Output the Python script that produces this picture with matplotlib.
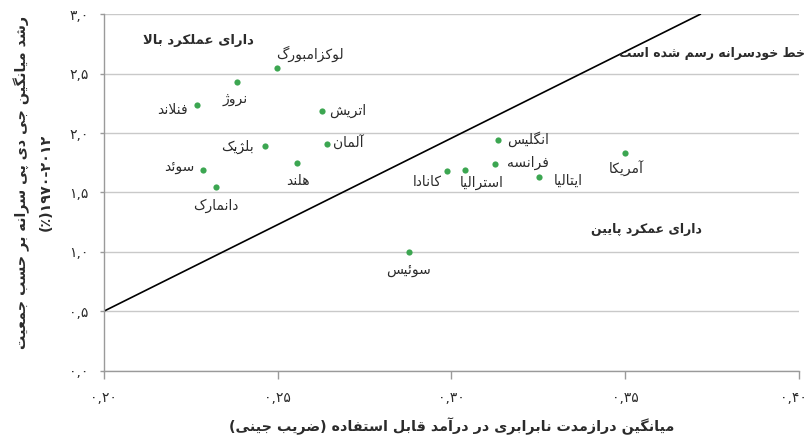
import re
import matplotlib
matplotlib.use("Agg")
import matplotlib.pyplot as plt
from matplotlib.ticker import FuncFormatter, MultipleLocator
from matplotlib.transforms import ScaledTranslation

# data
countries = ["لوکزامبورگ", "نروژ", "فنلاند", "اتریش", "بلژیک", "آلمان", "هلند", "سوئد",
             "دانمارک", "انگلیس", "فرانسه", "کانادا", "استرالیا", "ایتالیا", "آمریکا", "سوئیس"]
gini = [0.2497, 0.2384, 0.2268, 0.2627, 0.2465, 0.2642, 0.2556, 0.2285,
        0.2322, 0.3133, 0.3124, 0.2988, 0.3039, 0.3251, 0.3498, 0.2879]
growth = [2.55, 2.43, 2.24, 2.19, 1.89, 1.91, 1.75, 1.69,
          1.55, 1.94, 1.74, 1.68, 1.69, 1.63, 1.83, 1.00]
# label offsets in pixels (dx, dy, ha)
label_offsets = [(0, 14, "left"), (-2, -17, "center"), (-9, -5, "right"), (7, 0, "left"),
                 (-12, -1, "right"), (6, 1, "left"), (1, -18, "center"), (-8, 3, "right"),
                 (0, -19, "center"), (9, 1, "left"), (12, 1, "left"), (-6, -11, "right"),
                 (17, -13, "center"), (15, -4, "left"), (2, -16, "center"), (-1, -18, "center")]

line_x = [0.20, 0.3715]
line_y = [0.5, 3.0]

# --- minimal persian shaping + bidi, matplotlib has no complex text layout ---
FORMS = {
    "آ": (0xFE81, 0xFE82, None, None), "ا": (0xFE8D, 0xFE8E, None, None),
    "ئ": (0xFE89, 0xFE8A, 0xFE8B, 0xFE8C), "ب": (0xFE8F, 0xFE90, 0xFE91, 0xFE92),
    "پ": (0xFB56, 0xFB57, 0xFB58, 0xFB59), "ت": (0xFE95, 0xFE96, 0xFE97, 0xFE98),
    "ث": (0xFE99, 0xFE9A, 0xFE9B, 0xFE9C), "ج": (0xFE9D, 0xFE9E, 0xFE9F, 0xFEA0),
    "چ": (0xFB7A, 0xFB7B, 0xFB7C, 0xFB7D), "ح": (0xFEA1, 0xFEA2, 0xFEA3, 0xFEA4),
    "خ": (0xFEA5, 0xFEA6, 0xFEA7, 0xFEA8), "د": (0xFEA9, 0xFEAA, None, None),
    "ذ": (0xFEAB, 0xFEAC, None, None), "ر": (0xFEAD, 0xFEAE, None, None),
    "ز": (0xFEAF, 0xFEB0, None, None), "ژ": (0xFB8A, 0xFB8B, None, None),
    "س": (0xFEB1, 0xFEB2, 0xFEB3, 0xFEB4), "ش": (0xFEB5, 0xFEB6, 0xFEB7, 0xFEB8),
    "ص": (0xFEB9, 0xFEBA, 0xFEBB, 0xFEBC), "ض": (0xFEBD, 0xFEBE, 0xFEBF, 0xFEC0),
    "ط": (0xFEC1, 0xFEC2, 0xFEC3, 0xFEC4), "ظ": (0xFEC5, 0xFEC6, 0xFEC7, 0xFEC8),
    "ع": (0xFEC9, 0xFECA, 0xFECB, 0xFECC), "غ": (0xFECD, 0xFECE, 0xFECF, 0xFED0),
    "ف": (0xFED1, 0xFED2, 0xFED3, 0xFED4), "ق": (0xFED5, 0xFED6, 0xFED7, 0xFED8),
    "ک": (0xFB8E, 0xFB8F, 0xFB90, 0xFB91), "گ": (0xFB92, 0xFB93, 0xFB94, 0xFB95),
    "ل": (0xFEDD, 0xFEDE, 0xFEDF, 0xFEE0), "م": (0xFEE1, 0xFEE2, 0xFEE3, 0xFEE4),
    "ن": (0xFEE5, 0xFEE6, 0xFEE7, 0xFEE8), "و": (0xFEED, 0xFEEE, None, None),
    "ه": (0xFEE9, 0xFEEA, 0xFEEB, 0xFEEC), "ی": (0xFBFC, 0xFBFD, 0xFBFE, 0xFBFF),
}
LAM_ALEF = {"ا": (0xFEFB, 0xFEFC), "آ": (0xFEF5, 0xFEF6)}
MIRROR = {"(": ")", ")": "("}
DIGIT_RUN = r"[0-9۰-۹]+(?:[,.\-][0-9۰-۹]+)*"


def shape(s):
    out = []
    i = 0
    while i < len(s):
        c = s[i]
        if c not in FORMS:
            out.append(c)
            i += 1
            continue
        prev = s[i - 1] if i > 0 else ""
        joins_prev = prev in FORMS and FORMS[prev][2] is not None
        if c == "ل" and i + 1 < len(s) and s[i + 1] in LAM_ALEF:
            iso, fin = LAM_ALEF[s[i + 1]]
            out.append(chr(fin if joins_prev else iso))
            i += 2
            continue
        nxt = s[i + 1] if i + 1 < len(s) else ""
        joins_next = nxt in FORMS and FORMS[c][2] is not None
        iso, fin, ini, med = FORMS[c]
        if joins_prev and joins_next:
            out.append(chr(med))
        elif joins_prev:
            out.append(chr(fin))
        elif joins_next:
            out.append(chr(ini))
        else:
            out.append(chr(iso))
        i += 1
    return "".join(out)


def fa(s):
    """logical persian string -> visual string"""
    s = shape(s)
    parts = re.split("(" + DIGIT_RUN + ")", s)
    vis = []
    for p in reversed(parts):
        if p and re.fullmatch(DIGIT_RUN, p):
            vis.append(p)
        else:
            vis.append("".join(MIRROR.get(ch, ch) for ch in reversed(p)))
    return "".join(vis)


def fa_digits(txt):
    return txt.translate(str.maketrans("0123456789.", "۰۱۲۳۴۵۶۷۸۹,"))


plt.rcParams["font.family"] = ["DejaVu Sans"]
text_col = "#2b2b2b"
green = "#3ca651"

fig = plt.figure(figsize=(8.1, 4.41), dpi=100)
ax = fig.add_axes([0.128, 0.1594, 0.8588, 0.8082])

ax.set_xlim(0.20, 0.40)
ax.set_ylim(0.0, 3.0)
ax.xaxis.set_major_locator(MultipleLocator(0.05))
ax.yaxis.set_major_locator(MultipleLocator(0.5))
ax.xaxis.set_major_formatter(FuncFormatter(lambda v, p: fa_digits(f"{v:.2f}")))
ax.yaxis.set_major_formatter(FuncFormatter(lambda v, p: fa_digits(f"{v:.1f}")))
ax.grid(axis="y", color="#c9c9c9", linewidth=1.0)
ax.set_axisbelow(True)
for side in ["top", "right"]:
    ax.spines[side].set_visible(False)
for side in ["left", "bottom"]:
    ax.spines[side].set_color("#9a9a9a")
    ax.spines[side].set_linewidth(1.0)
ax.tick_params(axis="x", length=5.5, width=1, color="#9a9a9a", pad=9, labelsize=10, labelcolor=text_col)
ax.tick_params(axis="y", length=3, width=1, color="#9a9a9a", pad=8, labelsize=10, labelcolor=text_col)

ax.plot(line_x, line_y, color="black", linewidth=1.2, zorder=2)
ax.scatter(gini, growth, s=20, color=green, zorder=3, linewidths=0)

for name, x, y, (dx, dy, ha) in zip(countries, gini, growth, label_offsets):
    ax.annotate(fa(name), (x, y), xytext=(dx * 0.72, dy * 0.72), textcoords="offset points",
                ha=ha, va="center", fontsize=10, color=text_col)

ax.text(0.2271, 2.78, fa("دارای عملکرد بالا"), ha="center", va="center",
        fontsize=9.5, fontweight="bold", color=text_col)
ax.text(0.4016, 2.67, fa("خط خودسرانه رسم شده است"), ha="right", va="center",
        fontsize=9, fontweight="bold", color=text_col, clip_on=False)
ax.text(0.356, 1.19, fa("دارای عمکرد پایین"), ha="center", va="center",
        fontsize=9, fontweight="bold", color=text_col)

ax.set_xlabel(fa("میانگین درازمدت نابرابری در درآمد قابل استفاده (ضریب جینی)"),
              fontsize=10.3, fontweight="bold", color=text_col, labelpad=9)
fig.text(0.027, 0.587, fa("رشد میانگین جی دی پی سرانه بر حسب جمعیت"), rotation=90,
         ha="center", va="center", fontsize=10.3, fontweight="bold", color=text_col)
fig.text(0.057, 0.587, fa("۱۹۷۰-۲۰۱۲(٪)"), rotation=90,
         ha="center", va="center", fontsize=10.3, fontweight="bold", color=text_col)

# the 0.40 label sits at the figure edge, nudge it inwards a little
fig.canvas.draw()
for tick in ax.xaxis.get_major_ticks():
    if tick.label1.get_text() == fa_digits("0.40"):
        tick.label1.set_horizontalalignment("right")
        tick.label1.set_transform(tick.label1.get_transform()
                                  + ScaledTranslation(8 / 100, 0, fig.dpi_scale_trans))

fig.savefig("out.png", dpi=100)
